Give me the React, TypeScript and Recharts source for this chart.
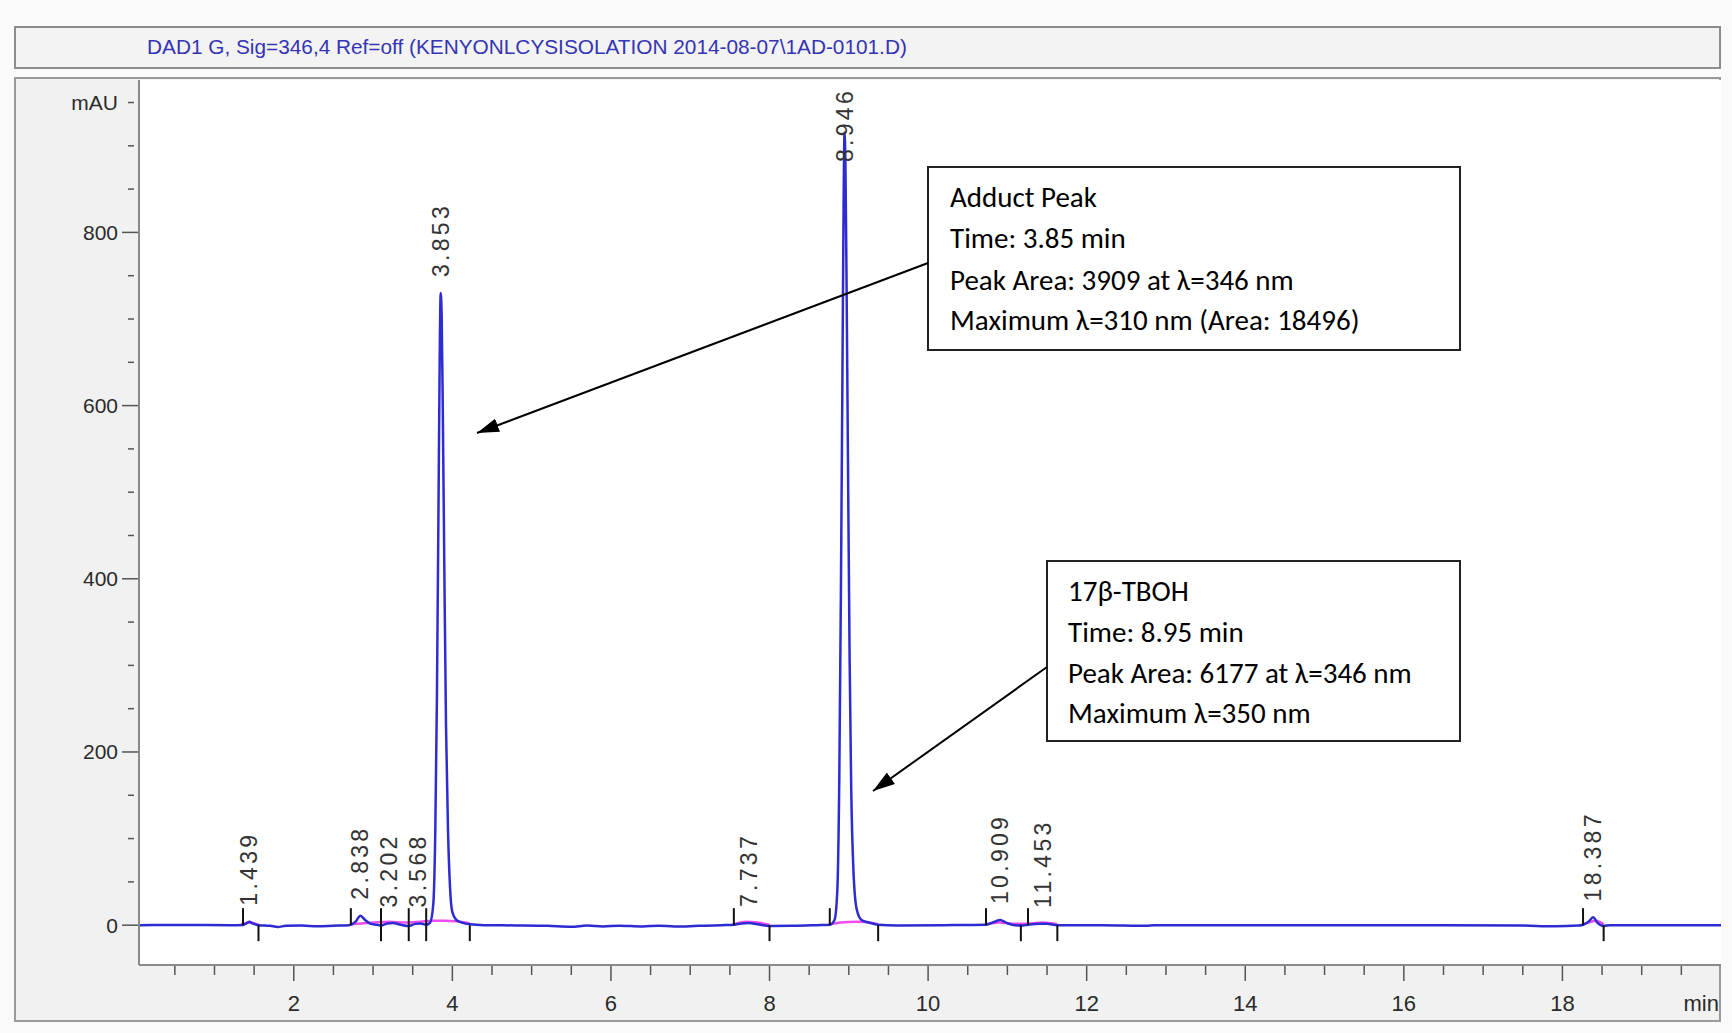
import React from "react";
import { ComposedChart, Line, Scatter, XAxis, YAxis, CartesianGrid } from "recharts";

// DAD1 G signal at 346 nm: retention time (min) vs absorbance (mAU)
const traceTime = [
  0.05, 0.6, 1.2, 1.36, 1.41, 1.44, 1.48, 1.555, 1.7, 1.8, 1.9, 2.1, 2.3, 2.5, 2.7, 2.78, 2.84, 2.9, 2.97,
  3.05, 3.1, 3.18, 3.25, 3.35, 3.45, 3.53, 3.6, 3.67, 3.72, 3.76, 3.785, 3.805, 3.825, 3.84, 3.853, 3.865,
  3.88, 3.9, 3.92, 3.945, 3.97, 4.0, 4.05, 4.12, 4.22, 4.4, 4.8, 5.2, 5.5, 5.7, 5.9, 6.1, 6.4, 6.6, 6.8,
  7.1, 7.4, 7.55, 7.65, 7.74, 7.85, 8.0, 8.3, 8.6, 8.76, 8.82, 8.855, 8.88, 8.9, 8.92, 8.935, 8.946, 8.957,
  8.97, 8.99, 9.01, 9.03, 9.06, 9.1, 9.16, 9.25, 9.37, 9.6, 10.2, 10.73, 10.84, 10.91, 10.98, 11.06, 11.17,
  11.26, 11.4, 11.5, 11.63, 12.2, 12.75, 12.85, 13.5, 14.5, 15.5, 16.5, 17.5, 17.9, 18.2, 18.26, 18.33,
  18.387, 18.44, 18.52, 18.6, 19.3, 20,
];
const traceMau = [
  0, 0.3, 0, 0.3, 2.5, 4, 2, 0, -0.8, -2, -0.8, -0.5, -1.2, -0.6, 0, 4, 11, 6, 1.5,
  0.5, -0.5, 2, 2.5, 0.5, -1, 1.5, 2, 0.5, 3, 25, 110, 260, 480, 650, 730, 705,
  590, 400, 230, 110, 45, 15, 6, 3, 1, 0, -0.3, -0.8, -1.8, -0.5, -1.5, -0.6, -1.6, -0.6, -1.6,
  -0.8, 0, 0.5, 2, 2.5, 1, -1, -0.8, 0, 0.5, 6, 40, 170, 380, 640, 840, 915, 880,
  760, 530, 310, 160, 60, 18, 6, 3, 0.5, -0.3, 0, 0.5, 4, 6, 3, 0.5, -0.5,
  0.5, 1.5, 1.5, 0, 0, -0.8, 0, 0, 0, 0, 0, -0.5, -1.2, -0.5, 0.5, 4,
  9, 3, -1, 0, 0, 0,
];

// magenta integration baseline (null = gap between integrated regions)
const baseTime = [
  1.34, 1.44, 1.56, 1.6,
  2.72, 2.85, 3.0, 3.2, 3.4, 3.6, 3.75, 3.9, 4.05, 4.22, 4.3,
  7.55, 7.7, 7.85, 8.0, 8.1,
  8.76, 8.9, 9.1, 9.3, 9.37, 9.45,
  10.73, 10.9, 11.1, 11.3, 11.45, 11.63, 11.7,
  18.26, 18.36, 18.42, 18.52,
];
const baseMau = [
  1, 3, 0.5, null,
  1, 2, 3, 4, 3, 4, 5, 5, 4.5, 2, null,
  1, 4, 3, 0.5, null,
  1, 3, 4, 2.5, 1, null,
  1, 3, 1.5, 2, 3, 1, null,
  1, 4, 5, 1,
];

const peakLabels = ["1.439", "2.838", "3.202", "3.568", "3.853", "7.737", "8.946", "10.909", "11.453", "18.387"];
const peakTimes = [1.439, 2.838, 3.202, 3.568, 3.853, 7.737, 8.946, 10.909, 11.453, 18.387];
const peakHeights = [4, 11, 2, 2, 730, 2.5, 915, 6, 1.5, 9];

// integration start / end markers (min)
const peakStarts = [1.36, 2.72, 3.1, 3.45, 3.67, 7.55, 8.76, 10.73, 11.26, 18.26];
const peakEnds = [1.555, 3.1, 3.45, 3.67, 4.22, 8.0, 9.37, 11.17, 11.63, 18.52];

const yTicks = [0, 50, 100, 150, 200, 250, 300, 350, 400, 450, 500, 550, 600, 650, 700, 750, 800, 850, 900, 950];
const xTicks = [
  0.5, 1, 1.5, 2, 2.5, 3, 3.5, 4, 4.5, 5, 5.5, 6, 6.5, 7, 7.5, 8, 8.5, 9, 9.5, 10,
  10.5, 11, 11.5, 12, 12.5, 13, 13.5, 14, 14.5, 15, 15.5, 16, 16.5, 17, 17.5, 18, 18.5, 19, 19.5,
];

const W = 1732;
const H = 1033;
const PLOT_TOP = 80;
const FONT = "'Liberation Sans', Arial, sans-serif";
const NOTE_FONT = "Carlito, Lato, 'Open Sans', sans-serif";

const trace = traceTime.map((t, i) => ({ t, v: traceMau[i] }));
const baseline = baseTime.map((t, i) => ({ t, v: baseMau[i] }));
const peaks = peakTimes.map((t, i) => ({ t, v: peakHeights[i], label: peakLabels[i] }));
const starts = peakStarts.map((t) => ({ t, v: 0 }));
const ends = peakEnds.map((t) => ({ t, v: 0 }));

function YTick(props: any) {
  const { x, y, payload } = props;
  const v = payload.value;
  const major = v % 200 === 0;
  const label = major ? String(v) : v === 950 ? "mAU" : null;
  return (
    <g>
      <line x1={major ? x - 17 : x - 11} x2={major ? x - 1 : x - 5} y1={y} y2={y} stroke="#555" strokeWidth={1.5} />
      {label && (
        <text x={x - 21} y={y} textAnchor="end" dominantBaseline="central" fontFamily={FONT} fontSize={21} fill="#2b2b2b">
          {label}
        </text>
      )}
    </g>
  );
}

function XTick(props: any) {
  const { x, y, payload } = props;
  const v = payload.value;
  const major = v % 2 === 0;
  return (
    <g>
      <line x1={x} x2={x} y1={y + 1} y2={y + (major ? 16 : 10)} stroke="#555" strokeWidth={1.5} />
      {major && (
        <text x={x} y={y + 38} textAnchor="middle" dominantBaseline="central" fontFamily={FONT} fontSize={22} fill="#2b2b2b">
          {v}
        </text>
      )}
    </g>
  );
}

// retention-time label, rotated, sitting just above the peak apex
function PeakLabel(props: any) {
  const { cx, cy, payload } = props;
  const len = payload.label.length * 15;
  const y = Math.max(cy - 16, PLOT_TOP + 7 + len);
  const x = cx + 8;
  return (
    <text x={x} y={y} transform={`rotate(-90 ${x} ${y})`} fontFamily={FONT} fontSize={23} letterSpacing={3.3} fill="#333">
      {payload.label}
    </text>
  );
}

function StartMark(props: any) {
  const { cx, cy } = props;
  return <line x1={cx} x2={cx} y1={cy} y2={cy - 17} stroke="#111" strokeWidth={2} />;
}

function EndMark(props: any) {
  const { cx, cy } = props;
  return <line x1={cx} x2={cx} y1={cy} y2={cy + 16} stroke="#111" strokeWidth={2} />;
}

function Notes() {
  const line = { fontFamily: NOTE_FONT, fontSize: 29, fill: "#000" } as const;
  return (
    <svg width={W} height={H} style={{ position: "absolute", left: 0, top: 0, pointerEvents: "none" }}>
      <defs>
        <marker id="ah" viewBox="0 0 22 14" refX="22" refY="7" markerWidth="22" markerHeight="14" markerUnits="userSpaceOnUse" orient="auto">
          <path d="M0,0 L22,7 L0,14 z" fill="#000" />
        </marker>
      </defs>
      <rect x={928} y={167} width={532} height={183} fill="#fff" stroke="#222" strokeWidth={2} />
      <text x={950} y={207} {...line}>Adduct Peak</text>
      <text x={950} y={248} {...line}>Time: 3.85 min</text>
      <text x={950} y={290} {...line}>Peak Area: 3909 at λ=346 nm</text>
      <text x={950} y={330} {...line}>Maximum λ=310 nm (Area: 18496)</text>
      <line x1={928} y1={263} x2={477} y2={433} stroke="#000" strokeWidth={2} markerEnd="url(#ah)" />

      <rect x={1047} y={561} width={413} height={180} fill="#fff" stroke="#222" strokeWidth={2} />
      <text x={1068} y={601} {...line}>17β-TBOH</text>
      <text x={1068} y={642} {...line}>Time: 8.95 min</text>
      <text x={1068} y={683} {...line}>Peak Area: 6177 at λ=346 nm</text>
      <text x={1068} y={723} {...line}>Maximum λ=350 nm</text>
      <line x1={1047} y1={667} x2={873} y2={791} stroke="#000" strokeWidth={2} markerEnd="url(#ah)" />
    </svg>
  );
}

export default function App() {
  return (
    <div style={{ position: "absolute", left: 0, top: 0, width: W, height: H, background: "#fafafa", overflow: "hidden" }}>
      {/* title bar */}
      <div
        style={{
          position: "absolute", left: 14, top: 26, width: 1703, height: 39,
          border: "2px solid #8c8c8c", background: "#f3f3f3",
        }}
      >
        <div style={{ position: "absolute", left: 131, top: 7, fontFamily: FONT, fontSize: 20.8, color: "#3434b4", whiteSpace: "nowrap" }}>
          DAD1 G, Sig=346,4 Ref=off (KENYONLCYSISOLATION 2014-08-07\1AD-0101.D)
        </div>
      </div>
      {/* chart panel */}
      <div
        style={{
          position: "absolute", left: 14, top: 77, width: 1703, height: 941,
          border: "2px solid #9a9a9a", background: "#f1f1f1",
        }}
      />
      <div style={{ position: "absolute", left: 0, top: 0 }}>
        <ComposedChart width={W} height={H} margin={{ top: PLOT_TOP, right: 11, bottom: 0, left: 0 }}>
          <CartesianGrid horizontal={false} vertical={false} fill="#ffffff" />
          <XAxis
            dataKey="t"
            type="number"
            domain={[0.048, 20]}
            allowDataOverflow
            ticks={xTicks}
            interval={0}
            height={68}
            tickSize={0}
            tickMargin={0}
            tickLine={false}
            axisLine={{ stroke: "#8a8a8a", strokeWidth: 2 }}
            tick={<XTick />}
            label={{
              content: (p: any) => (
                <text x={p.viewBox.x + p.viewBox.width - 2} y={p.viewBox.y + 38} textAnchor="end" dominantBaseline="central" fontFamily={FONT} fontSize={22} fill="#2b2b2b">
                  min
                </text>
              ),
            }}
          />
          <YAxis
            type="number"
            domain={[-46, 976]}
            allowDataOverflow
            ticks={yTicks}
            interval={0}
            width={139}
            tickSize={0}
            tickMargin={0}
            tickLine={false}
            axisLine={{ stroke: "#8a8a8a", strokeWidth: 2 }}
            tick={<YTick />}
          />
          <Line data={baseline} dataKey="v" type="monotone" stroke="#f04cf0" strokeWidth={2.5} dot={false} connectNulls={false} isAnimationActive={false} />
          <Line data={trace} dataKey="v" type="monotone" stroke="#2c2cd2" strokeWidth={2.5} dot={false} isAnimationActive={false} />
          <Scatter data={starts} dataKey="v" shape={<StartMark />} isAnimationActive={false} />
          <Scatter data={ends} dataKey="v" shape={<EndMark />} isAnimationActive={false} />
          <Scatter data={peaks} dataKey="v" shape={<PeakLabel />} isAnimationActive={false} />
        </ComposedChart>
      </div>
      <Notes />
    </div>
  );
}
